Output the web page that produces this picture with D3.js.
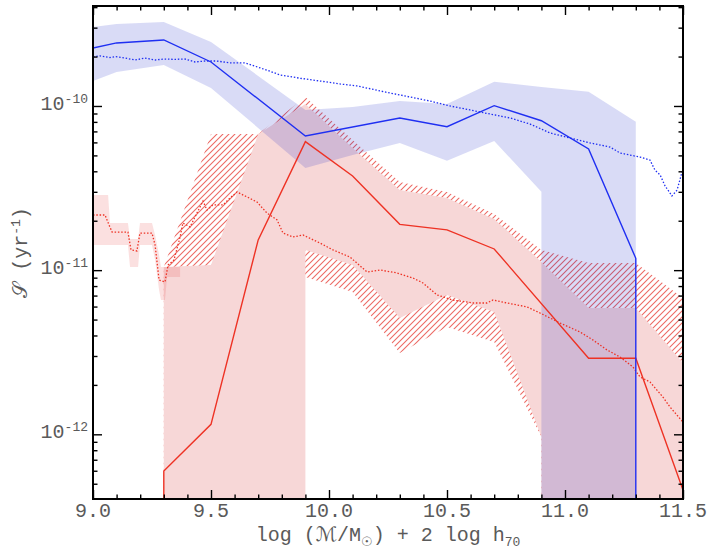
<!DOCTYPE html>
<html>
<head>
<meta charset="utf-8">
<script src="https://d3js.org/d3.v7.min.js"></script>
<style>
  body { margin: 0; background: #fff; }
  .lab { font-family: "Liberation Mono", "DejaVu Sans Mono", monospace; font-size: 20px; fill: #5a5a5a; }
  .axis path { display: none; }
  .axis line { stroke: #000; stroke-width: 1.4px; }
</style>
</head>
<body>
<svg width="708" height="550"></svg>
<script>
// all S values are stored as log10(S / yr^-1); -13 means "below the plotted range"

// blue: solid line and shaded band
const blueX = [9.0, 9.1, 9.3, 9.5, 9.9, 10.3, 10.5, 10.7, 10.9, 11.1, 11.3, 11.3];
const blueLine = [-9.647, -9.616, -9.598, -9.732, -10.183, -10.073, -10.126, -9.998, -10.090, -10.262, -10.928, -13];
const blueBandX = [9.0, 9.1, 9.3, 9.5, 9.9, 10.1, 10.3, 10.5, 10.7, 10.9, 10.9, 11.1, 11.3];
const blueBandHi = [-9.519, -9.500, -9.488, -9.610, -10.024, -10.006, -9.970, -9.988, -9.852, -9.884, -9.884, -9.913, -10.096];
const blueBandLo = [-9.848, -9.793, -9.750, -9.890, -10.378, -10.299, -10.225, -10.333, -10.213, -10.522, -13, -13, -13];

// red: solid line, pink band and hatched band
const redX = [9.3, 9.3, 9.5, 9.7, 9.9, 10.1, 10.3, 10.5, 10.7, 11.1, 11.3, 11.5];
const redLine = [-13, -12.224, -11.939, -10.816, -10.217, -10.426, -10.721, -10.755, -10.871, -11.537, -11.537, -12.339];
const pinkX = [9.3, 9.5, 9.7, 9.9, 9.9, 10.1, 10.3, 10.5, 10.7, 10.9, 10.9, 11.1, 11.3, 11.5];
const pinkHi = [-10.981, -10.969, -10.171, -9.988, -9.988, -10.256, -10.512, -10.560, -10.688, -10.950, -10.950, -11.231, -11.231, -11.566];
const pinkLo = [-13, -13, -13, -13, -10.877, -10.969, -11.291, -11.151, -11.255, -12.016, -13, -13, -13, -13];
const hatchX = [9.3, 9.5, 9.7, 9.9, 10.1, 10.3, 10.5, 10.7, 10.9, 10.9, 11.1, 11.3, 11.5];
const hatchHi = [-10.981, -10.171, -10.171, -9.945, -10.207, -10.463, -10.524, -10.658, -10.877, -10.877, -10.956, -10.956, -11.170];
const hatchLo = [-13, -13, -13, -11.042, -11.133, -11.505, -11.346, -11.438, -12.016, -13, -13, -13, -13];

// dotted curves
const blueDotX = [9.000, 9.030, 9.072, 9.097, 9.136, 9.178, 9.220, 9.263, 9.301, 9.347, 9.390, 9.432, 9.475, 9.524, 9.581,
  9.644, 9.736, 9.792, 9.877, 9.962, 10.047, 10.119, 10.174, 10.258, 10.343, 10.428, 10.513, 10.597, 10.682, 10.767,
  10.852, 10.936, 11.021, 11.106, 11.191, 11.233, 11.275, 11.318, 11.360, 11.381, 11.403, 11.424, 11.453, 11.475, 11.496];
const blueDotY = [-9.700, -9.695, -9.705, -9.700, -9.708, -9.720, -9.708, -9.720, -9.714, -9.716, -9.714, -9.732, -9.726, -9.726, -9.738,
  -9.738, -9.781, -9.811, -9.831, -9.848, -9.866, -9.878, -9.895, -9.921, -9.945, -9.970, -10.000, -10.024, -10.049, -10.073,
  -10.110, -10.164, -10.195, -10.225, -10.250, -10.286, -10.299, -10.311, -10.329, -10.390, -10.420, -10.487, -10.548, -10.512, -10.402];
const redDotX = [9.000, 9.051, 9.068, 9.081, 9.114, 9.148, 9.161, 9.186, 9.199, 9.250, 9.263, 9.280, 9.305, 9.318, 9.343,
  9.369, 9.381, 9.411, 9.466, 9.483, 9.508, 9.551, 9.581, 9.610, 9.653, 9.695, 9.737, 9.780, 9.805, 9.847,
  9.890, 9.962, 10.017, 10.089, 10.161, 10.216, 10.288, 10.356, 10.398, 10.458, 10.525, 10.610, 10.669, 10.695, 10.754,
  10.839, 10.894, 10.979, 11.064, 11.119, 11.178, 11.233, 11.288, 11.318, 11.360, 11.415, 11.445, 11.500];
const redDotY = [-10.664, -10.664, -10.725, -10.768, -10.768, -10.768, -10.877, -10.883, -10.774, -10.774, -10.847, -11.060, -11.072, -10.969, -10.938,
  -10.798, -10.713, -10.737, -10.579, -10.634, -10.603, -10.603, -10.560, -10.524, -10.554, -10.585, -10.652, -10.694, -10.774, -10.798,
  -10.786, -10.835, -10.877, -10.920, -11.011, -10.999, -11.017, -11.048, -11.078, -11.151, -11.182, -11.200, -11.200, -11.182, -11.200,
  -11.224, -11.261, -11.322, -11.377, -11.426, -11.486, -11.529, -11.590, -11.651, -11.681, -11.773, -11.834, -11.925];
const redDotBandX = [9.000, 9.064, 9.072, 9.148, 9.157, 9.191, 9.199, 9.250, 9.263, 9.280, 9.288, 9.305, 9.314, 9.369];
const redDotBandHi = [-10.542, -10.542, -10.713, -10.713, -10.810, -10.810, -10.713, -10.713, -10.786, -10.908, -10.981, -10.981, -10.981, -10.981];
const redDotBandLo = [-10.847, -10.847, -10.847, -10.847, -10.981, -10.981, -10.847, -10.847, -10.938, -11.121, -11.182, -11.182, -11.042, -11.042];

// axes
const xMajor = [9.0, 9.5, 10.0, 10.5, 11.0, 11.5];
const xTickLabels = ["9.0", "9.5", "10.0", "10.5", "11.0", "11.5"];
const yMajor = [1e-12, 1e-11, 1e-10];
const yTickExp = ["-12", "-11", "-10"];

const margin = {top: 6, right: 25, bottom: 51, left: 93},
  width = 708 - margin.left - margin.right,
  height = 550 - margin.top - margin.bottom;

const svg = d3.select("svg");
const g = svg.append("g")
  .attr("transform", "translate(" + margin.left + "," + margin.top + ")");

const x = d3.scaleLinear().domain([9.0, 11.5]).range([0, width]);
const y = d3.scaleLog().domain([Math.pow(10, -12.394), Math.pow(10, -9.391)]).range([height, 0]);

const pts = (xs, ys) => xs.map((v, i) => ({x: v, y: Math.pow(10, ys[i])}));
const band = (xs, hi, lo) => xs.map((v, i) => ({x: v, hi: Math.pow(10, hi[i]), lo: Math.pow(10, lo[i])}));

const defs = svg.append("defs");
defs.append("clipPath").attr("id", "clip")
  .append("rect").attr("width", width).attr("height", height);
const pat = defs.append("pattern").attr("id", "hatch")
  .attr("patternUnits", "userSpaceOnUse").attr("width", 6).attr("height", 6);
pat.append("path")
  .attr("d", "M-1,1 l2,-2 M0,6 l6,-6 M5,7 l2,-2")
  .attr("stroke", "#ec6a64").attr("stroke-width", 1.1);

const area = d3.area().x(d => x(d.x)).y0(d => y(d.lo)).y1(d => y(d.hi));
const line = d3.line().x(d => x(d.x)).y(d => y(d.y));

const plot = g.append("g").attr("clip-path", "url(#clip)");

// hatched band under the opaque pink band
plot.append("path").attr("d", area(band(hatchX, hatchHi, hatchLo)))
  .attr("fill", "url(#hatch)");
plot.append("path").attr("d", area(band(pinkX, pinkHi, pinkLo)))
  .attr("fill", "#f7d7d7");
plot.append("path").attr("d", area(band(redDotBandX, redDotBandHi, redDotBandLo)))
  .attr("fill", "#e84040").attr("fill-opacity", 0.16);
plot.append("path").attr("d", area(band(blueBandX, blueBandHi, blueBandLo)))
  .attr("fill", "rgb(20,30,200)").attr("fill-opacity", 0.16);

// lines
plot.append("path").attr("d", line(pts(redX, redLine)))
  .attr("fill", "none").attr("stroke", "#ee3224").attr("stroke-width", 1.4);
plot.append("path").attr("d", line(pts(redDotX, redDotY)))
  .attr("fill", "none").attr("stroke", "#ee3224").attr("stroke-width", 1.3)
  .attr("stroke-dasharray", "1.5,1.8");
plot.append("path").attr("d", line(pts(blueX, blueLine)))
  .attr("fill", "none").attr("stroke", "#1f2ff2").attr("stroke-width", 1.4);
plot.append("path").attr("d", line(pts(blueDotX, blueDotY)))
  .attr("fill", "none").attr("stroke", "#1f2ff2").attr("stroke-width", 1.3)
  .attr("stroke-dasharray", "1.5,1.8");

// ticks on all four sides, pointing inward
const xMinor = d3.range(90, 116).map(v => v / 10).filter(v => !xMajor.some(m => Math.abs(m - v) < 1e-9));
const yMinor = [];
for (let e = -13; e <= -10; e++) for (let m = 2; m <= 9; m++) {
  const v = m * Math.pow(10, e);
  if (v > y.domain()[0] && v < y.domain()[1]) yMinor.push(v);
}

function ticks(axisFn, vals, size, transform) {
  g.append("g").attr("class", "axis").attr("transform", transform)
    .call(axisFn.tickValues(vals).tickSize(size).tickFormat(""));
}
ticks(d3.axisBottom(x), xMajor, -9, `translate(0,${height})`);
ticks(d3.axisBottom(x), xMinor, -4.5, `translate(0,${height})`);
ticks(d3.axisTop(x), xMajor, -9, "translate(0,0)");
ticks(d3.axisTop(x), xMinor, -4.5, "translate(0,0)");
ticks(d3.axisLeft(y), yMajor, -9, "translate(0,0)");
ticks(d3.axisLeft(y), yMinor, -4.5, "translate(0,0)");
ticks(d3.axisRight(y), yMajor, -9, `translate(${width},0)`);
ticks(d3.axisRight(y), yMinor, -4.5, `translate(${width},0)`);

g.append("rect").attr("width", width).attr("height", height)
  .attr("fill", "none").attr("stroke", "#000").attr("stroke-width", 2);

// tick labels
g.selectAll(".xlab").data(xMajor).join("text")
  .attr("class", "lab")
  .attr("x", d => x(d)).attr("y", height + 18)
  .attr("text-anchor", "middle")
  .text((d, i) => xTickLabels[i]);

const yl = g.selectAll(".ylab").data(yMajor).join("text")
  .attr("class", "lab")
  .attr("x", -5).attr("y", d => y(d) + 4)
  .attr("text-anchor", "end");
yl.append("tspan").text("10");
yl.append("tspan").attr("dy", -7).attr("font-size", 13).text((d, i) => yTickExp[i]);

// axis titles
const xt = svg.append("text").attr("class", "lab")
  .attr("x", margin.left + width / 2).attr("y", 541)
  .attr("text-anchor", "middle");
xt.append("tspan").text("log (");
xt.append("tspan").attr("font-family", "DejaVu Sans").text("ℳ");
xt.append("tspan").text("/M");
xt.append("tspan").attr("font-size", 13).attr("dy", 5).attr("font-family", "DejaVu Sans").text("☉");
xt.append("tspan").attr("dy", -5).text(") + 2 log h");
xt.append("tspan").attr("font-size", 13).attr("dy", 5).text("70");

const yt = svg.append("text").attr("class", "lab")
  .attr("transform", `translate(27,${margin.top + height / 2}) rotate(-90)`)
  .attr("text-anchor", "middle");
yt.append("tspan").attr("font-family", "DejaVu Sans").text("𝒮");
yt.append("tspan").text(" (yr");
yt.append("tspan").attr("font-size", 13).attr("dy", -7).text("-1");
yt.append("tspan").attr("dy", 7).text(")");
</script>
</body>
</html>
